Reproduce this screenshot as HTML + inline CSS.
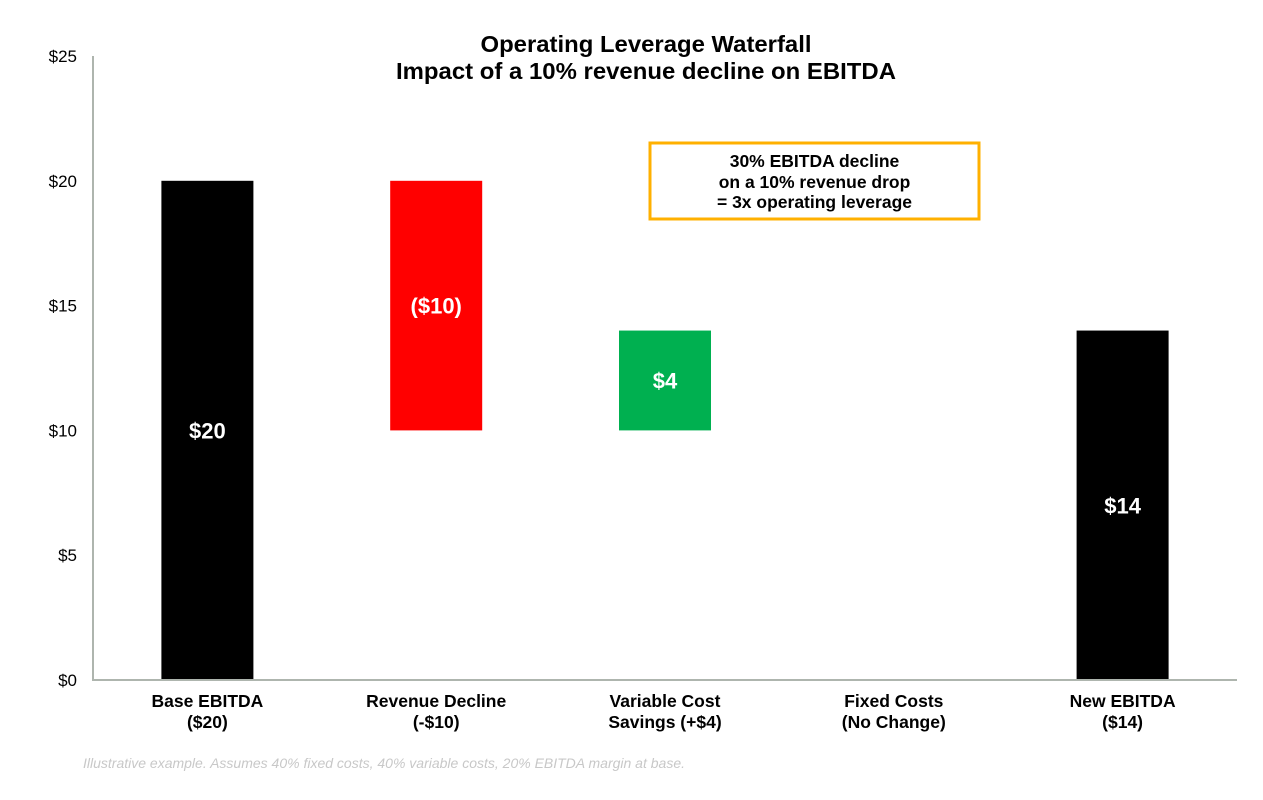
<!DOCTYPE html>
<html><head><meta charset="utf-8"><style>
body{margin:0;background:#fff;}
svg text{font-family:"Liberation Sans",Arial,sans-serif;}
</style></head><body>
<svg id="chart" width="1263" height="795" viewBox="0 0 1263 795">
<text x="646" y="52" text-anchor="middle" font-size="23.5" font-weight="bold" textLength="331" lengthAdjust="spacingAndGlyphs">Operating Leverage Waterfall</text>
<text x="646" y="79" text-anchor="middle" font-size="23.5" font-weight="bold" textLength="500" lengthAdjust="spacingAndGlyphs">Impact of a 10% revenue decline on EBITDA</text>
<g id="yticks"></g>
<g id="bars"></g>
<g id="xlabels"></g>
<line x1="93" y1="56" x2="93" y2="680" stroke="#AEB5AE" stroke-width="2"/>
<line x1="92" y1="680" x2="1237" y2="680" stroke="#AEB5AE" stroke-width="2"/>
<g>
<rect x="650" y="143" width="329" height="76" fill="#fff" stroke="#FFB000" stroke-width="3"/>
<text x="814.5" y="167" text-anchor="middle" font-size="17.5" font-weight="bold">30% EBITDA decline</text>
<text x="814.5" y="188" text-anchor="middle" font-size="17.5" font-weight="bold">on a 10% revenue drop</text>
<text x="814.5" y="208" text-anchor="middle" font-size="17.5" font-weight="bold">= 3x operating leverage</text>
</g>
<text x="83" y="768" font-size="14" font-style="italic" fill="#C8C8C8" textLength="602" lengthAdjust="spacingAndGlyphs">Illustrative example. Assumes 40% fixed costs, 40% variable costs, 20% EBITDA margin at base.</text>
</svg>
<script>
const categories=[["Base EBITDA","($20)"],["Revenue Decline","(-$10)"],["Variable Cost","Savings (+$4)"],["Fixed Costs","(No Change)"],["New EBITDA","($14)"]];
const barStart=[0,20,10,14,0];
const barEnd=[20,10,14,14,14];
const barLabels=["$20","($10)","$4","","$14"];
const barColors=["#000000","#FF0000","#00B050","#808080","#000000"];
const yTicks=[0,5,10,15,20,25];
const yTickLabels=["$0","$5","$10","$15","$20","$25"];
const NS="http://www.w3.org/2000/svg";
const x0=93,x1=1237,y0=680,yTop=56,yMax=25;
const band=(x1-x0)/categories.length;
const xc=i=>x0+band*(i+0.5);
const y=v=>y0-(v/yMax)*(y0-yTop);
const bw=92;
function mk(tag,attrs,parent,txt){const e=document.createElementNS(NS,tag);for(const k in attrs)e.setAttribute(k,attrs[k]);if(txt!==undefined)e.textContent=txt;parent.appendChild(e);return e;}
const gy=document.getElementById('yticks');
yTicks.forEach((t,i)=>{const e=mk('text',{x:77,y:y(t)+6,'text-anchor':'end','font-size':17},gy,yTickLabels[i]);

});
const gb=document.getElementById('bars');
categories.forEach((c,i)=>{
const top=Math.max(barStart[i],barEnd[i]),bot=Math.min(barStart[i],barEnd[i]);
if(top>bot){const r=mk('rect',{x:xc(i)-bw/2,y:y(top),width:bw,height:y(bot)-y(top),fill:barColors[i]},gb);

}
if(barLabels[i]){const t=mk('text',{x:xc(i),y:y((top+bot)/2)+8,'text-anchor':'middle','font-size':22,'font-weight':'bold',fill:'#fff'},gb,barLabels[i]);

}
const gx=document.getElementById('xlabels');
const l1=mk('text',{x:xc(i),y:707,'text-anchor':'middle','font-size':17.5,'font-weight':'bold'},gx,c[0]);


const l2=mk('text',{x:xc(i),y:728,'text-anchor':'middle','font-size':17.5,'font-weight':'bold'},gx,c[1]);


});
</script>
</body></html>
